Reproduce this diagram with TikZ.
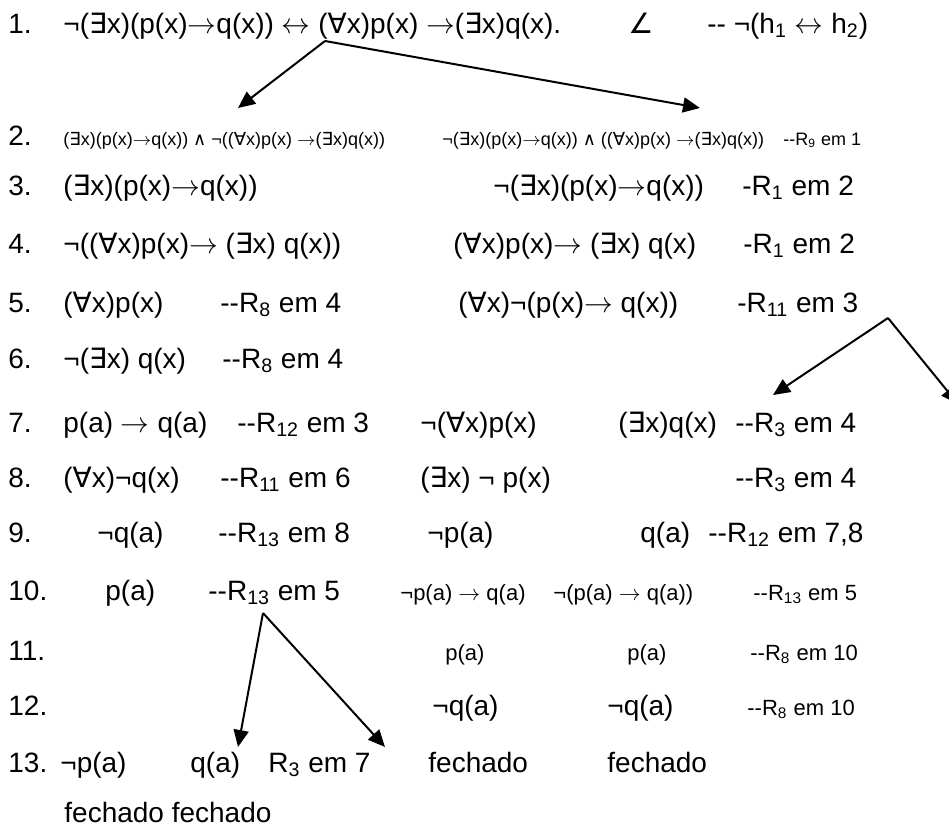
\documentclass[tikz,border=0pt]{standalone}
\usepackage{fontspec}
\setmainfont{Liberation Sans}
\newfontfamily\symf{DejaVu Sans}
\usepackage{tikz}
\usetikzlibrary{arrows.meta}
\newcommand{\Ex}{{\symf ∃}}
\newcommand{\All}{{\symf ∀}}
\newcommand{\Conj}{{\symf ∧}}
\newcommand{\Ang}{{\symf ∠}}
\newcommand{\imp}{$\rightarrow$}
\newcommand{\bic}{$\leftrightarrow$}
\newcommand{\dsh}{-\kern0pt-}
\newcommand{\Rn}[1]{R\textsubscript{#1}}

\begin{document}
\begin{tikzpicture}[x=0.5pt,y=-0.5pt,
  txt/.style={anchor=base west,inner sep=0pt,font=\fontsize{14}{16}\selectfont},
  txtm/.style={txt,font=\fontsize{11}{13}\selectfont},
  txts/.style={txt,font=\fontsize{9}{10}\selectfont},
  br/.style={-{Triangle[length=8.5pt,width=7.5pt]},line width=1pt}]
  \useasboundingbox (0,0) rectangle (949,832);
  % row numbers
  \foreach \n/\y in {1/33,2/145,3/195,4/253,5/312,6/368,7/432,8/487,9/542,10/600,11/660,12/715,13/772}
    {\node[txt] (num\n) at (8,\y) {\n.};}
  % 1 : hypothesis
  \node[txt] (h1) at (63,33) {¬(\Ex x)(p(x)\imp q(x)) \bic{} (\All x)p(x) \imp(\Ex x)q(x).};
  \node[txt] (h1a) at (628,33) {\Ang};
  \node[txt] (h1r) at (707,33) {\dsh{} ¬(h\textsubscript{1} \bic{} h\textsubscript{2})};
  % 2
  \node[txts] (l2) at (63,145) {(\Ex x)(p(x)\imp q(x)) \Conj{} ¬((\All x)p(x) \imp(\Ex x)q(x))};
  \node[txts] (r2) at (442,145) {¬(\Ex x)(p(x)\imp q(x)) \Conj{} ((\All x)p(x) \imp(\Ex x)q(x))};
  \node[txts] (j2) at (783,145) {\dsh\Rn{9} em 1};
  % 3
  \node[txt] (l3) at (63,195) {(\Ex x)(p(x)\imp q(x))};
  \node[txt] (r3) at (493,195) {¬(\Ex x)(p(x)\imp q(x))};
  \node[txt] (j3) at (742,195) {-\Rn{1} em 2};
  % 4
  \node[txt] (l4) at (63,253) {¬((\All x)p(x)\imp{} (\Ex x) q(x))};
  \node[txt] (r4) at (453,253) {(\All x)p(x)\imp{} (\Ex x) q(x)};
  \node[txt] (j4) at (743,253) {-\Rn{1} em 2};
  % 5
  \node[txt] (l5) at (63,312) {(\All x)p(x)};
  \node[txt] (k5) at (220,312) {\dsh\Rn{8} em 4};
  \node[txt] (r5) at (458,312) {(\All x)¬(p(x)\imp{} q(x))};
  \node[txt] (j5) at (737,312) {-\Rn{11} em 3};
  % 6
  \node[txt] (l6) at (63,368) {¬(\Ex x) q(x)};
  \node[txt] (k6) at (222,368) {\dsh\Rn{8} em 4};
  % 7
  \node[txt] (l7) at (63,432) {p(a) \imp{} q(a)};
  \node[txt] (k7) at (237,432) {\dsh\Rn{12} em 3};
  \node[txt] (r7) at (420,432) {¬(\All x)p(x)};
  \node[txt] (s7) at (618,432) {(\Ex x)q(x)};
  \node[txt] (j7) at (735,432) {\dsh\Rn{3} em 4};
  % 8
  \node[txt] (l8) at (63,487) {(\All x)¬q(x)};
  \node[txt] (k8) at (220,487) {\dsh\Rn{11} em 6};
  \node[txt] (r8) at (420,487) {(\Ex x) ¬ p(x)};
  \node[txt] (j8) at (735,487) {\dsh\Rn{3} em 4};
  % 9
  \node[txt] (l9) at (97,542) {¬q(a)};
  \node[txt] (k9) at (218,542) {\dsh\Rn{13} em 8};
  \node[txt] (r9) at (427,542) {¬p(a)};
  \node[txt] (s9) at (640,542) {q(a)};
  \node[txt] (j9) at (708,542) {\dsh\Rn{12} em 7,8};
  % 10
  \node[txt] (l10) at (105,600) {p(a)};
  \node[txt] (k10) at (208,600) {\dsh\Rn{13} em 5};
  \node[txtm] (r10) at (400,600) {¬p(a) \imp{} q(a)};
  \node[txtm] (s10) at (553,600) {¬(p(a) \imp{} q(a))};
  \node[txtm] (j10) at (753,600) {\dsh\Rn{13} em 5};
  % 11
  \node[txtm] (r11) at (445,660) {p(a)};
  \node[txtm] (s11) at (627,660) {p(a)};
  \node[txtm] (j11) at (750,660) {\dsh\Rn{8} em 10};
  % 12
  \node[txt] (r12) at (432,715) {¬q(a)};
  \node[txt] (s12) at (607,715) {¬q(a)};
  \node[txtm] (j12) at (747,715) {\dsh\Rn{8} em 10};
  % 13 : closed branches
  \node[txt] (l13) at (60,772) {¬p(a)};
  \node[txt] (m13) at (190,772) {q(a)};
  \node[txt] (k13) at (268,772) {\Rn{3} em 7};
  \node[txt] (r13) at (428,772) {fechado};
  \node[txt] (s13) at (607,772) {fechado};
  \node[txt] (l14) at (64,822) {fechado fechado};
  % branching arrows
  \coordinate (b1) at (325,41);  \coordinate (b1l) at (238,108); \coordinate (b1r) at (700,108);
  \coordinate (b5) at (888,318); \coordinate (b5l) at (773,395); \coordinate (b5r) at (958,404);
  \coordinate (b10) at (263,613); \coordinate (b10l) at (238,747); \coordinate (b10r) at (385,747);
  \draw[br] (b1) -- (b1l);
  \draw[br] (b1) -- (b1r);
  \draw[br] (b5) -- (b5l);
  \draw[br] (b5) -- (b5r);
  \draw[br] (b10) -- (b10l);
  \draw[br] (b10) -- (b10r);
\end{tikzpicture}
\end{document}
